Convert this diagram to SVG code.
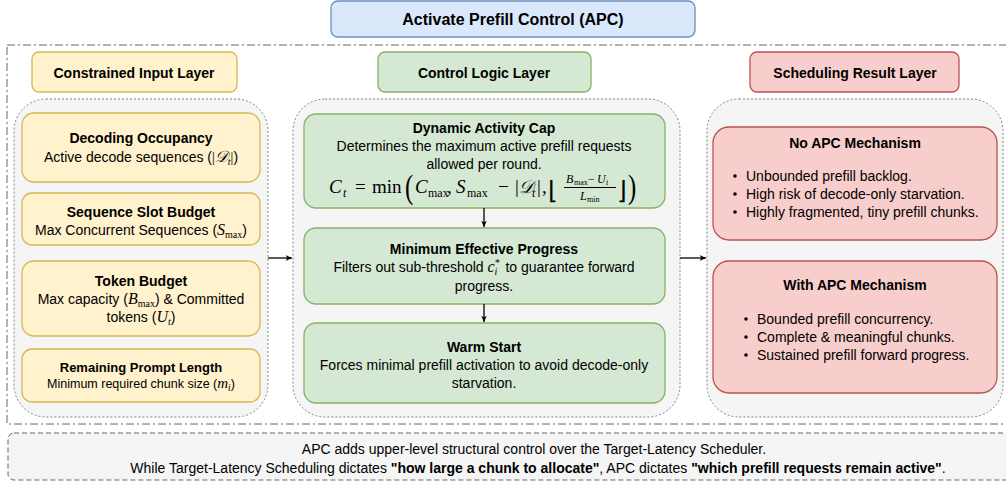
<svg xmlns="http://www.w3.org/2000/svg" width="1006" height="482" viewBox="0 0 1006 482">
<defs>
<style>
text{font-family:"Liberation Sans",Arial,sans-serif;fill:#000;}
.b{font-weight:bold;}
.c{text-anchor:middle;}
.t14{font-size:14px;}
.t13{font-size:13px;}
.m{font-family:"Liberation Serif","Times New Roman",serif;font-style:italic;}
.u{font-family:"Liberation Serif","Times New Roman",serif;font-style:normal;}
.blue{fill:#dae8fc;stroke:#6c8ebf;stroke-width:1.3;}
.yel{fill:#fff2cc;stroke:#d6b656;stroke-width:1.3;}
.grn{fill:#d5e8d4;stroke:#82b366;stroke-width:1.3;}
.red{fill:#f8cecc;stroke:#b85450;stroke-width:1.3;}
.cont{fill:#f5f5f5;stroke:#666;stroke-width:0.8;stroke-dasharray:2 2;}
.edge{stroke:#000;stroke-width:1.3;fill:none;}
</style>
<marker id="arr" viewBox="0 0 10 10" refX="9" refY="5" markerWidth="7" markerHeight="7" orient="auto" markerUnits="userSpaceOnUse">
<path d="M0,1 L9,5 L0,9 L2.5,5 Z" fill="#000"/>
</marker>
</defs>

<rect width="1006" height="482" fill="#fff"/>

<g id="title">
<rect class="blue" x="331" y="1" width="364" height="36" rx="7"/>
<text class="b c" x="513" y="25" font-size="16">Activate Prefill Control (APC)</text>
</g>

<g id="frame">
<rect x="7" y="45" width="1010" height="379" fill="none" stroke="#666" stroke-width="1" stroke-dasharray="8 3 2 3"/>
</g>

<g id="footer">
<rect x="8" y="433" width="1010" height="47" rx="6" fill="#f5f5f5" stroke="#666" stroke-width="1" stroke-dasharray="5 3"/>
<text class="c t14" x="534" y="454">APC adds upper-level structural control over the Target-Latency Scheduler.</text>
<text class="c t14" x="538" y="473">While Target-Latency Scheduling dictates <tspan class="b">"how large a chunk to allocate"</tspan>, APC dictates <tspan class="b">"which prefill requests remain active"</tspan>.</text>
</g>

<g id="input-header">
<rect class="yel" x="32" y="52" width="205" height="40" rx="7"/>
<text class="b c t14" x="134" y="78">Constrained Input Layer</text>
</g>
<g id="logic-header">
<rect class="grn" x="378" y="52" width="213" height="40" rx="7"/>
<text class="b c t14" x="484" y="78">Control Logic Layer</text>
</g>
<g id="result-header">
<rect class="red" x="750" y="52" width="209" height="40" rx="7"/>
<text class="b c t14" x="855" y="78">Scheduling Result Layer</text>
</g>

<g id="input-container"><rect class="cont" x="14" y="99" width="254" height="318" rx="32"/></g>
<g id="logic-container"><rect class="cont" x="293" y="99" width="387" height="318" rx="32"/></g>
<g id="result-container"><rect class="cont" x="707" y="99" width="296" height="318" rx="32"/></g>

<g id="decoding-occupancy">
<rect class="yel" x="22" y="113" width="238" height="69" rx="12"/>
<text class="b c t14" x="141" y="143">Decoding Occupancy</text>
<text class="c t14" x="141" y="162">Active decode sequences (<tspan class="u">|</tspan><tspan class="m" font-size="16">𝒟</tspan><tspan class="m" font-size="10" dy="3">t</tspan><tspan class="u" dy="-3">|</tspan>)</text>
</g>

<g id="sequence-slot-budget">
<rect class="yel" x="22" y="193" width="238" height="52" rx="10"/>
<text class="b c t14" x="141" y="217">Sequence Slot Budget</text>
<text class="c t14" x="141" y="235">Max Concurrent Sequences (<tspan class="m" font-size="16">S</tspan><tspan class="u" font-size="10" dy="3">max</tspan><tspan dy="-3">)</tspan></text>
</g>

<g id="token-budget">
<rect class="yel" x="22" y="261" width="238" height="75" rx="12"/>
<text class="b c t14" x="141" y="286">Token Budget</text>
<text class="c t14" x="141" y="304">Max capacity (<tspan class="m" font-size="16">B</tspan><tspan class="u" font-size="10" dy="3">max</tspan><tspan dy="-3">) &amp; Committed</tspan></text>
<text class="c t14" x="141" y="322">tokens (<tspan class="m" font-size="16">U</tspan><tspan class="m" font-size="10" dy="3">t</tspan><tspan dy="-3">)</tspan></text>
</g>

<g id="remaining-prompt-length">
<rect class="yel" x="22" y="349" width="238" height="53" rx="10"/>
<text class="b c t13" x="141" y="372">Remaining Prompt Length</text>
<text class="c" font-size="12.5" x="141" y="388">Minimum required chunk size (<tspan class="m" font-size="15">m</tspan><tspan class="m" font-size="9.5" dy="3">i</tspan><tspan dy="-3">)</tspan></text>
</g>

<g id="dynamic-activity-cap">
<rect class="grn" x="304" y="114" width="361" height="94" rx="12"/>
<text class="b c t14" x="484" y="133">Dynamic Activity Cap</text>
<text class="c t14" x="484" y="151">Determines the maximum active prefill requests</text>
<text class="c t14" x="484" y="169">allowed per round.</text>
<g id="equation">
<text class="m" font-size="19" x="329" y="193">C</text>
<text class="m" font-size="12" x="343" y="197">t</text>
<text class="u" font-size="19" x="355" y="193">=</text>
<text class="u" font-size="19" x="372" y="193">min</text>
<text class="u" font-size="33" x="405" y="198" transform="translate(405 198) scale(0.75 1) translate(-405 -198)">(</text>
<text class="m" font-size="19" x="415" y="193">C</text>
<text class="u" font-size="12" x="428" y="197">max</text>
<text class="u" font-size="19" x="447" y="193">,</text>
<text class="m" font-size="19" x="456" y="193">S</text>
<text class="u" font-size="12" x="467" y="197">max</text>
<text class="u" font-size="19" x="498" y="193">−</text>
<text class="u" font-size="19" x="515" y="193">|</text>
<text class="m" font-size="18" x="519" y="193">𝒟</text>
<text class="m" font-size="12" x="532" y="197">t</text>
<text class="u" font-size="19" x="537" y="193">|</text>
<text class="u" font-size="19" x="542" y="193">,</text>
<text font-family="DejaVu Serif,serif" font-size="25" x="548" y="199">⌊</text>
<text class="m" font-size="12" x="566" y="183">B</text>
<text class="u" font-size="8" x="574" y="185">max</text>
<text class="u" font-size="12" x="588" y="183">−</text>
<text class="m" font-size="12" x="597" y="183">U</text>
<text class="m" font-size="8" x="606" y="185">t</text>
<line x1="564" y1="187.5" x2="616" y2="187.5" stroke="#000" stroke-width="1"/>
<text class="m" font-size="12" x="580" y="200">L</text>
<text class="u" font-size="8" x="587" y="202">min</text>
<text font-family="DejaVu Serif,serif" font-size="25" x="617" y="199">⌋</text>
<text class="u" font-size="33" x="628" y="198" transform="translate(628 198) scale(0.75 1) translate(-628 -198)">)</text>
</g>
</g>

<g id="minimum-effective-progress">
<rect class="grn" x="304" y="228" width="361" height="76" rx="12"/>
<text class="c t14" x="484" y="272">Filters out sub-threshold <tspan class="m" font-size="16">c</tspan><tspan class="m" font-size="10" dy="-6">*</tspan><tspan class="m" font-size="10" dx="-5" dy="9">i</tspan><tspan dx="8" dy="-3">to guarantee forward</tspan></text>
<text class="b c t14" x="484" y="254">Minimum Effective Progress</text>
<text class="c t14" x="484" y="291">progress.</text>
</g>

<g id="warm-start">
<rect class="grn" x="304" y="323" width="361" height="80" rx="12"/>
<text class="b c t14" x="484" y="352">Warm Start</text>
<text class="c t14" x="484" y="370">Forces minimal prefill activation to avoid decode-only</text>
<text class="c t14" x="484" y="388">starvation.</text>
</g>

<g id="no-apc">
<rect class="red" x="713" y="127" width="284" height="113" rx="16"/>
<text class="b c t14" x="855" y="148">No APC Mechanism</text>
<circle cx="735" cy="176" r="1.8" fill="#000"/>
<circle cx="735" cy="194" r="1.8" fill="#000"/>
<circle cx="735" cy="212" r="1.8" fill="#000"/>
<text class="t14" x="746" y="181">Unbounded prefill backlog.</text>
<text class="t14" x="746" y="199">High risk of decode-only starvation.</text>
<text class="t14" x="746" y="217">Highly fragmented, tiny prefill chunks.</text>
</g>

<g id="with-apc">
<rect class="red" x="713" y="261" width="284" height="132" rx="16"/>
<text class="b c t14" x="855" y="290">With APC Mechanism</text>
<circle cx="746" cy="319" r="1.8" fill="#000"/>
<circle cx="746" cy="337" r="1.8" fill="#000"/>
<circle cx="746" cy="355" r="1.8" fill="#000"/>
<text class="t14" x="757" y="324">Bounded prefill concurrency.</text>
<text class="t14" x="757" y="342">Complete &amp; meaningful chunks.</text>
<text class="t14" x="757" y="360">Sustained prefill forward progress.</text>
</g>

<g id="connectors">
<line class="edge" x1="268" y1="258" x2="292" y2="258" marker-end="url(#arr)"/>
<line class="edge" x1="680" y1="258" x2="706" y2="258" marker-end="url(#arr)"/>
<line class="edge" x1="484" y1="208" x2="484" y2="227" marker-end="url(#arr)"/>
<line class="edge" x1="484" y1="304" x2="484" y2="322" marker-end="url(#arr)"/>
</g>
</svg>
